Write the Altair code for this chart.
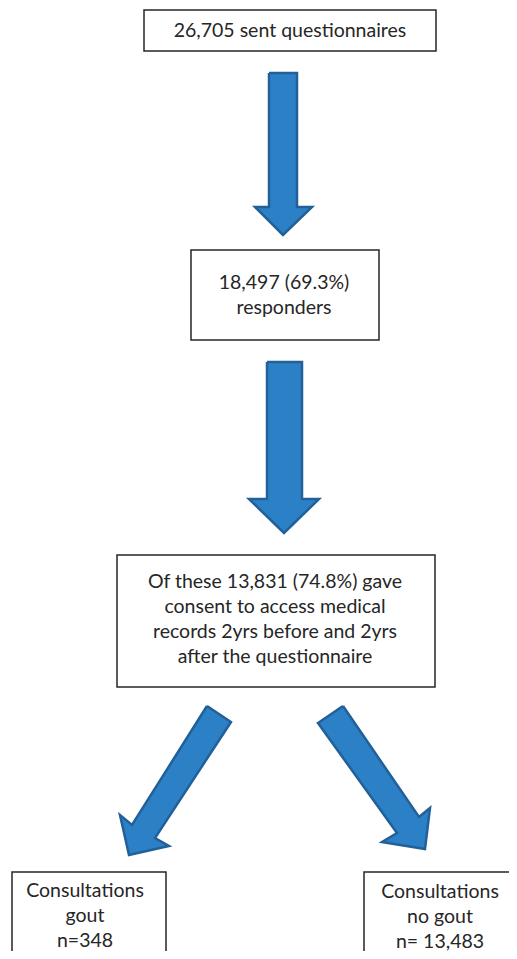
import altair as alt
import pandas as pd

# ---- content -------------------------------------------------------------
box_texts = [
    "26,705 sent questionnaires",
    "18,497 (69.3%)\nresponders",
    "Of these 13,831 (74.8%) gave\nconsent to access medical\nrecords 2yrs before and 2yrs\nafter the questionnaire",
    "Consultations\ngout\nn=348",
    "Consultations\nno gout\nn= 13,483",
]

# ---- layout (image pixel coordinates) -----------------------------------
box_x0 = [144, 191, 117, 12, 364]
box_x1 = [436, 379, 435, 166, 530]
box_y0 = [10, 250, 555, 872, 872]
box_y1 = [51, 340, 687, 970, 970]
text_x = [290, 284, 275, 85, 440]
text_y = [37, 289, 588, 897, 898]

# arrow outlines (id, x, y) in drawing order
arrow_ids = [0]*8 + [1]*8 + [2]*8 + [3]*8
arrow_x = [269, 297, 297, 312, 283, 255, 269, 269,
           267, 302, 302, 319, 284, 249, 267, 267,
           207, 231, 155, 169, 129, 120, 132, 207,
           343, 318, 397, 382, 425, 430, 419, 343]
arrow_y = [73, 73, 207, 207, 235, 207, 207, 73,
           362, 362, 499, 499, 533, 499, 499, 362,
           706, 722, 838, 846, 855, 815, 825, 706,
           706, 723, 833, 842, 849, 808, 817, 706]

boxes = pd.DataFrame({"x0": box_x0, "x1": box_x1, "y0": box_y0, "y1": box_y1})
texts = pd.DataFrame({"label": box_texts, "x": text_x, "y": text_y})
arrows = pd.DataFrame({"id": arrow_ids, "x": arrow_x, "y": arrow_y,
                       "ord": list(range(len(arrow_x)))})

W, H = 501, 943
xs = alt.Scale(domain=[8, 8 + W], nice=False, zero=False)
ys = alt.Scale(domain=[8, 8 + H], nice=False, zero=False, reverse=True)

arrow_layer = alt.Chart(arrows).mark_line(
    filled=True, fill="#2b80c6", stroke="#22609a", strokeWidth=2.5,
    strokeJoin="miter", interpolate="linear"
).encode(
    x=alt.X("x:Q", scale=xs, axis=None),
    y=alt.Y("y:Q", scale=ys, axis=None),
    detail="id:N",
    order="ord:Q",
)

box_layer = alt.Chart(boxes).mark_rect(
    fill="white", stroke="#262626", strokeWidth=1.5
).encode(
    x=alt.X("x0:Q", scale=xs, axis=None), x2="x1:Q",
    y=alt.Y("y0:Q", scale=ys, axis=None), y2="y1:Q",
)

text_layer = alt.Chart(texts).mark_text(
    font="Lato", fontSize=19.5, color="#262626", align="center",
    baseline="alphabetic", lineBreak="\n", lineHeight=25
).encode(
    x=alt.X("x:Q", scale=xs, axis=None),
    y=alt.Y("y:Q", scale=ys, axis=None),
    text="label:N",
)

chart = alt.layer(arrow_layer, box_layer, text_layer).properties(
    width=W, height=H, padding=0, autosize=alt.AutoSizeParams(type="none")
).configure_view(stroke=None)

chart.save("out.html", embed_options={"renderer": "svg", "actions": False})
